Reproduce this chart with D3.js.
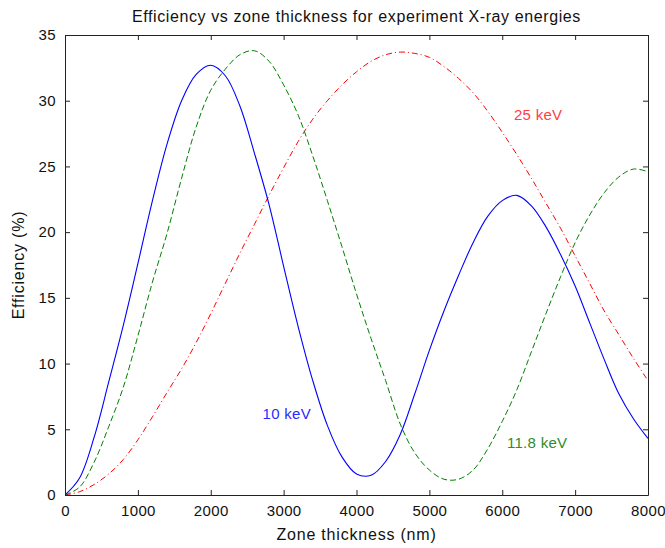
<!DOCTYPE html>
<html>
<head>
<meta charset="utf-8">
<script src="https://cdn.jsdelivr.net/npm/d3@7"></script>
<style>
  body { margin: 0; background: #fff; }
  svg { display: block; }
  text { font-family: "Liberation Sans", Arial, sans-serif; }
</style>
</head>
<body>
<svg id="chart" width="665" height="548"></svg>
<script>
const thickness = d3.range(0, 8001, 200);
const eff10 = [0, 1.3, 4.4, 8.6, 12.9, 17.6, 22.4, 26.7, 30.0, 32.0, 32.7, 31.9, 29.6, 26.0, 22.1, 17.4, 12.8, 8.7, 5.3, 2.9, 1.6, 1.5, 2.55, 4.6, 7.7, 11.0, 14.0, 16.7, 19.2, 21.2, 22.4, 22.8, 22.0, 20.4, 18.3, 15.9, 13.1, 10.3, 7.7, 5.8, 4.3];
const eff118 = [0, 0.6, 2.5, 5.2, 8.2, 12.1, 16.2, 19.9, 24.1, 28.0, 30.8, 32.4, 33.5, 33.8, 33.0, 31.2, 28.9, 25.8, 22.4, 18.9, 15.3, 11.9, 8.7, 5.4, 3.2, 1.9, 1.2, 1.2, 1.9, 3.5, 5.6, 8.0, 10.9, 13.8, 16.6, 19.2, 21.3, 23.0, 24.2, 24.8, 24.6];
const eff25 = [0, 0.25, 0.8, 1.6, 2.7, 4.2, 5.95, 7.8, 9.6, 11.6, 13.8, 16.1, 18.4, 20.6, 22.8, 24.9, 26.9, 28.6, 30.0, 31.2, 32.2, 33.0, 33.5, 33.7, 33.6, 33.3, 32.6, 31.7, 30.6, 29.2, 27.6, 25.9, 24.1, 22.2, 20.3, 18.2, 16.1, 14.0, 12.2, 10.4, 8.7];
const xTicks = [0, 1000, 2000, 3000, 4000, 5000, 6000, 7000, 8000];
const yTicks = [0, 5, 10, 15, 20, 25, 30, 35];
const seriesNames = ["10 keV", "11.8 keV", "25 keV"];

const svg = d3.select("#chart");
const L = 65, R = 648, T = 35, B = 495;
const x = d3.scaleLinear().domain([0, 8000]).range([L, R]);
const y = d3.scaleLinear().domain([0, 35]).range([B, T]);

const axCol = "#222";
const gB = svg.append("g").attr("transform", `translate(0,${B})`)
  .call(d3.axisBottom(x).tickValues(xTicks).tickSizeInner(-5).tickSizeOuter(0).tickPadding(10).tickFormat(d3.format("d")));
const gT = svg.append("g").attr("transform", `translate(0,${T})`)
  .call(d3.axisTop(x).tickValues(xTicks).tickSizeInner(-5).tickSizeOuter(0).tickFormat(""));
const gL = svg.append("g").attr("transform", `translate(${L},0)`)
  .call(d3.axisLeft(y).tickValues(yTicks).tickSizeInner(-5).tickSizeOuter(0).tickPadding(9));
const gR = svg.append("g").attr("transform", `translate(${R},0)`)
  .call(d3.axisRight(y).tickValues(yTicks).tickSizeInner(-5).tickSizeOuter(0).tickFormat(""));
[gB, gT, gL, gR].forEach(g => {
  g.select(".domain").attr("stroke", axCol).attr("stroke-width", 1);
  g.selectAll(".tick line").attr("stroke", axCol);
  g.selectAll("text").attr("font-size", 15).attr("fill", "#111")
    .attr("letter-spacing", 0.4)
    .attr("font-family", "'Liberation Sans', Arial, sans-serif");
});

const line = d3.line().x(d => x(d[0])).y(d => y(d[1])).curve(d3.curveCatmullRom.alpha(0.5));
svg.append("clipPath").attr("id", "clip").append("rect")
  .attr("x", L).attr("y", T).attr("width", R - L).attr("height", B - T);
const plot = svg.append("g").attr("clip-path", "url(#clip)");

plot.append("path").datum(thickness.map((t, i) => [t, eff25[i]]))
  .attr("d", line).attr("fill", "none").attr("stroke", "#ff0000").attr("stroke-width", 1)
  .attr("stroke-dasharray", "6,3,1,3");
plot.append("path").datum(thickness.map((t, i) => [t, eff118[i]]))
  .attr("d", line).attr("fill", "none").attr("stroke", "#008000").attr("stroke-width", 1)
  .attr("stroke-dasharray", "6,3");
plot.append("path").datum(thickness.map((t, i) => [t, eff10[i]]))
  .attr("d", line).attr("fill", "none").attr("stroke", "#0000ff").attr("stroke-width", 1.1);

const lab = [
  {t: seriesNames[0], x: 2710, y: 5.8, c: "#2a2aff"},
  {t: seriesNames[1], x: 6064, y: 3.6, c: "#2e8b2e"},
  {t: seriesNames[2], x: 6160, y: 28.5, c: "#ff4040"}
];
svg.selectAll(".slab").data(lab).enter().append("text")
  .attr("x", d => x(d.x)).attr("y", d => y(d.y)).attr("fill", d => d.c)
  .attr("font-size", 15).attr("letter-spacing", 0.3).text(d => d.t);

svg.append("text").attr("x", (L + R) / 2).attr("y", 22).attr("text-anchor", "middle")
  .attr("font-size", 16).attr("letter-spacing", 0.6).attr("fill", "#111")
  .text("Efficiency vs zone thickness for experiment X-ray energies");
svg.append("text").attr("x", (L + R) / 2).attr("y", 540).attr("text-anchor", "middle")
  .attr("font-size", 16).attr("letter-spacing", 0.8).attr("fill", "#111").text("Zone thickness (nm)");
svg.append("text").attr("transform", `translate(24,${(T + B) / 2}) rotate(-90)`)
  .attr("text-anchor", "middle").attr("font-size", 16).attr("letter-spacing", 0.8)
  .attr("fill", "#111").text("Efficiency (%)");
</script>
</body>
</html>
